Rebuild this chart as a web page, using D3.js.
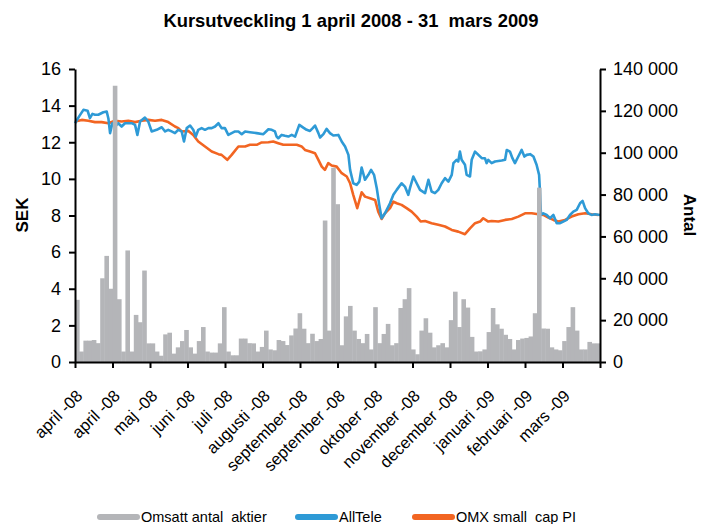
<!DOCTYPE html>
<html>
<head>
<meta charset="utf-8">
<script src="https://cdn.jsdelivr.net/npm/d3@7"></script>
<style>
  body { margin: 0; background: #fff; }
  text { font-family: "Liberation Sans", Arial, sans-serif; fill: #000; }
</style>
</head>
<body>
<svg width="702" height="524"></svg>
<script>
const svg = d3.select("svg");

// x labels (one per tick, last tick has no label)
const xLabels = ["april -08", "april -08", "maj -08", "juni -08", "juli -08", "augusti -08",
  "september -08", "september -08", "oktober -08", "november -08", "december -08",
  "januari -09", "februari -09", "mars -09"];

const leftTicks = [0, 2, 4, 6, 8, 10, 12, 14, 16];
const rightTicks = [0, 20000, 40000, 60000, 80000, 100000, 120000, 140000];

// AllTele close (SEK), [trading day, value]
const alltele = [
  [0,13.04],[1.9,13.4],[4,13.77],[6,13.72],[7.1,13.32],[8.3,13.55],[9.5,13.5],[11.1,13.5],[13.5,13.64],[15.1,13.68],
  [15.9,13.3],[16.7,12.5],[17.8,13.04],[19,12.86],[20.6,13.04],[22.2,12.86],[23.8,13.04],[25.4,13.04],[27,13.04],[28.6,12.95],
  [29.7,12.4],[31,13.13],[33.3,13.35],[34.9,13.13],[36.5,12.59],[38.9,12.68],[41.3,12.82],[42.9,12.59],[44.4,12.68],[46,12.59],
  [47.6,12.5],[49.2,12.68],[50.8,12.59],[51.9,12.04],[53.2,12.77],[54.8,12.91],[56.3,12.68],[57.5,12.31],[58.7,12.68],[60.3,12.77],
  [61.9,12.68],[63.5,12.77],[65.1,12.77],[66.7,12.86],[68.3,13.04],[69.8,12.77],[71.4,12.77],[73,12.4],[74.6,12.5],[76.2,12.59],
  [77.8,12.59],[79.4,12.44],[81,12.59],[83.3,12.55],[86.5,12.5],[89.7,12.44],[92.1,12.71],[93.7,12.68],[95.2,12.59],[96,12.31],
  [96.8,12.22],[98.4,12.4],[100,12.35],[101.6,12.31],[103.2,12.4],[104.8,12.31],[106.8,12.95],[108.7,12.8],[110.3,12.68],[111.9,12.62],
  [113.2,12.77],[114.3,12.91],[115.9,12.5],[116.7,12.26],[118.3,12.44],[119.8,12.73],[121.4,12.5],[123,12.37],[125.4,12.4],[127,12.04],
  [128.6,11.77],[130.2,11.31],[131,10.49],[132.5,9.76],[134.1,9.67],[135.4,9.85],[136.5,10.62],[138.1,9.95],[139.7,10.22],[141,10.49],
  [142.4,10.22],[143.7,9.49],[144.9,8.58],[146,7.85],[147.6,8.12],[150,8.67],[151.6,9.13],[153.2,9.4],[155.5,9.76],[157.1,9.58],
  [158.7,9.13],[159.5,9.49],[161.1,10.13],[162.7,9.76],[164.3,9.4],[166.7,9.22],[168.3,9.95],[169.8,9.31],[171.4,9.22],[173,9.4],
  [174.6,9.76],[176.2,10.04],[177.8,9.85],[179.4,10.22],[180.2,10.86],[181.7,11.04],[182.5,10.95],[183.3,11.49],[184.1,11.04],[185.7,10.77],
  [186.5,10.22],[188.1,10.13],[188.9,11.04],[190.5,11.49],[192.1,11.31],[193.7,11.13],[195.2,11.13],[196,10.86],[196.8,11.04],[198.4,10.86],
  [200,10.95],[203.2,11],[204.8,11.04],[205.6,11.58],[207.1,11.49],[208.3,11.13],[209.5,10.86],[211.1,11.22],[212.7,11.58],[214,11.22],
  [215.1,11.31],[216.7,11.35],[218.3,11.22],[219.8,10.77],[221,10.22],[221.4,9.31],[221.9,8.03],[223,8.12],[224.6,8.03],[226.2,7.85],
  [227.8,8.03],[229.4,7.58],[231,7.58],[232.5,7.67],[234.1,7.76],[235.7,8.03],[237.3,8.21],[238.9,8.31],[240.5,8.67],[241.7,8.8],
  [242.9,8.4],[244.4,8.12],[246,8.03],[247.6,8.07],[250,8.03]
];

// OMX small cap PI, rebased to SEK scale
const omx = [
  [0,13.13],[3.2,13.22],[6.3,13.17],[9.5,13.1],[12.7,13.1],[15.9,13.04],[19,13.17],[22.2,13.13],[25.4,13.17],[28.6,13.1],
  [31.7,13.17],[34.9,13.22],[38.1,13.17],[41.3,13.22],[44.4,13.1],[47.6,12.86],[49.2,12.77],[50.8,12.59],[54,12.62],[56.3,12.4],
  [58.7,12.04],[61.9,11.77],[65.1,11.49],[68.3,11.35],[69.8,11.31],[72.5,11.04],[74.6,11.31],[77.8,11.77],[81,11.77],[83.3,11.86],
  [86.5,11.86],[88.9,11.99],[92.1,12],[94.4,12.04],[96.8,11.95],[99.2,11.86],[102.4,11.86],[105.6,11.86],[107.9,11.77],[109.5,11.58],
  [111.9,11.49],[114.3,11.4],[115.9,11.04],[117.5,10.67],[119,10.49],[120.6,10.86],[122.2,10.73],[124.6,10.67],[127,10.31],[129.4,10.13],
  [131,9.76],[132.5,9.13],[134.4,8.4],[136.5,9.27],[138.1,9.03],[140.5,8.94],[142.9,8.85],[144.4,8.21],[146,7.81],[147.6,8.12],
  [150,8.4],[151.6,8.76],[153.2,8.67],[155.5,8.58],[157.9,8.4],[160.3,8.21],[162.7,7.94],[164.6,7.67],[166.7,7.7],[169.8,7.58],
  [173,7.49],[176.2,7.4],[179.4,7.21],[182.5,7.12],[185.7,6.98],[188.1,7.3],[190.5,7.58],[192.9,7.67],[194.4,7.85],[196.8,7.67],
  [198.4,7.7],[201.6,7.67],[204.8,7.76],[208,7.81],[211.1,7.94],[214.3,8.12],[217.5,8.12],[220.6,8.07],[223,8.03],[225.4,7.89],
  [227.8,7.76],[230.2,7.67],[233.3,7.76],[236.5,7.94],[239.7,8.07],[242.9,8.12],[246,8.07],[249.2,8.03]
];

// traded shares, one bar per two trading days
const volume = [
  29700, 5000, 10200, 10200, 10500, 9000, 40000, 50700, 35000, 132000,
  30000, 5000, 53300, 5000, 22500, 19000, 43700, 8900, 8900, 5000,
  3000, 13200, 14000, 4000, 7000, 10000, 15300, 7000, 4000, 10000,
  16700, 5000, 4500, 4500, 8900, 26200, 5000, 3200, 3200, 11200,
  11200, 9000, 8900, 5000, 7200, 15000, 6000, 5600, 10500, 10000,
  8100, 12700, 16000, 23300, 15900, 9000, 13500, 10000, 11000, 67600,
  15000, 92800, 75400, 8000, 21800, 26800, 15000, 11000, 9000, 13400,
  6000, 26200, 9000, 13400, 18200, 8000, 9000, 25800, 30000, 35300,
  6000, 3700, 15000, 20900, 14000, 7000, 8000, 9000, 7000, 20000,
  33600, 16700, 30000, 26000, 12000, 5000, 5100, 6000, 14300, 25800,
  18000, 15900, 13000, 11000, 6000, 10500, 11200, 11500, 12200, 23300,
  83300, 16000, 15900, 7000, 6000, 5600, 10000, 16700, 26200, 15000,
  6000, 6000, 9600, 8900, 8900
];

const gray = "#b4b5b8";
const blue = "#2e9ad6";
const orange = "#f26522";

const x = d3.scaleLinear().domain([0, 250]).range([75, 600]);
const xBand = d3.scaleBand().domain(d3.range(volume.length)).range([75, 600]).padding(0);
const xTick = d3.scaleLinear().domain([0, 14]).range([75, 600]);
const yLeft = d3.scaleLinear().domain([0, 16]).range([362, 69]);
const yRight = d3.scaleLinear().domain([0, 140000]).range([362, 69]);

const line = d3.line()
  .x(d => x(d[0]))
  .y(d => yLeft(d[1]));

svg.append("path")
  .datum(omx)
  .attr("fill", "none")
  .attr("stroke", orange)
  .attr("stroke-width", 2.6)
  .attr("stroke-linejoin", "round")
  .attr("d", line);

svg.append("path")
  .datum(alltele)
  .attr("fill", "none")
  .attr("stroke", blue)
  .attr("stroke-width", 2.6)
  .attr("stroke-linejoin", "round")
  .attr("d", line);

// bars sit on the secondary axis, drawn over the lines
svg.append("g")
  .selectAll("rect")
  .data(volume)
  .join("rect")
  .attr("x", (d, i) => xBand(i))
  .attr("width", xBand.bandwidth() + 0.4)
  .attr("y", d => yRight(d))
  .attr("height", d => yRight(0) - yRight(d))
  .attr("fill", gray);

// axes
const sv = d3.formatLocale({ decimal: ",", thousands: " ", grouping: [3], currency: ["", ""] });
const fmt = sv.format(",");

const leftAxis = svg.append("g")
  .attr("transform", "translate(75,0)")
  .call(d3.axisLeft(yLeft).tickValues(leftTicks).tickSize(6).tickSizeOuter(0).tickPadding(8));

const rightAxis = svg.append("g")
  .attr("transform", "translate(600,0)")
  .call(d3.axisRight(yRight).tickValues(rightTicks).tickSize(6).tickSizeOuter(0).tickPadding(7).tickFormat(fmt));

const bottomAxis = svg.append("g")
  .attr("transform", "translate(0,362)")
  .call(d3.axisBottom(xTick).tickValues(d3.range(15)).tickSize(6).tickSizeOuter(0).tickFormat(i => xLabels[i] || ""));

[leftAxis, rightAxis, bottomAxis].forEach(a => {
  a.select(".domain").attr("stroke", "#000").attr("stroke-width", 2);
  a.selectAll(".tick line").attr("stroke", "#000").attr("stroke-width", 2);
  a.selectAll("text").attr("font-size", 18).attr("fill", "#000")
    .style("font-family", "'Liberation Sans', Arial, sans-serif");
});

bottomAxis.selectAll("text")
  .attr("x", 0)
  .attr("y", 0)
  .attr("dy", 0)
  .attr("font-size", 16.5)
  .attr("text-anchor", "end")
  .attr("transform", "translate(8,35) rotate(-45)");

// titles
svg.append("text")
  .attr("x", 351)
  .attr("y", 27)
  .attr("text-anchor", "middle")
  .attr("font-size", 18.4)
  .attr("font-weight", "bold")
  .style("white-space", "pre")
  .text("Kursutveckling 1 april 2008 - 31  mars 2009");

svg.append("text")
  .attr("transform", "translate(28,215) rotate(-90)")
  .attr("text-anchor", "middle")
  .attr("font-size", 17)
  .attr("font-weight", "bold")
  .text("SEK");

svg.append("text")
  .attr("transform", "translate(684,215) rotate(90)")
  .attr("text-anchor", "middle")
  .attr("font-size", 17)
  .attr("font-weight", "bold")
  .text("Antal");

// legend
const legend = [
  { name: "Omsatt antal  aktier", color: gray, x: 97 },
  { name: "AllTele", color: blue, x: 295 },
  { name: "OMX small  cap PI", color: orange, x: 412 }
];

const lg = svg.append("g").selectAll("g").data(legend).join("g")
  .attr("transform", d => `translate(${d.x},517)`);

lg.append("line")
  .attr("x1", 3).attr("x2", 40)
  .attr("stroke", d => d.color)
  .attr("stroke-width", 6)
  .attr("stroke-linecap", "round");

lg.append("text")
  .attr("x", 44)
  .attr("y", 5)
  .attr("font-size", 14.5)
  .style("white-space", "pre")
  .text(d => d.name);
</script>
</body>
</html>
